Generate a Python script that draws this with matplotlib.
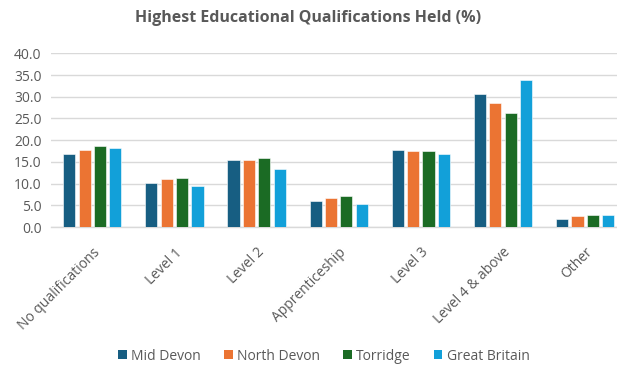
import numpy as np
import matplotlib.pyplot as plt
from matplotlib.patches import Patch

plt.rcParams['font.family'] = ['Open Sans', 'DejaVu Sans']

categories = ['No qualifications', 'Level 1', 'Level 2', 'Apprenticeship',
              'Level 3', 'Level 4 & above', 'Other']
series = ['Mid Devon', 'North Devon', 'Torridge', 'Great Britain']
mid_devon = [16.8, 10.1, 15.4, 5.9, 17.8, 30.6, 1.9]
north_devon = [17.7, 11.0, 15.4, 6.6, 17.6, 28.5, 2.5]
torridge = [18.7, 11.4, 15.8, 7.2, 17.4, 26.2, 2.7]
great_britain = [18.2, 9.5, 13.3, 5.2, 16.8, 33.9, 2.7]
yticks = [0, 5, 10, 15, 20, 25, 30, 35, 40]

colors = ['#175e82', '#eb7433', '#1b6b24', '#12a0d9']
grey = '#595959'

fig = plt.figure(figsize=(6.17, 3.65), dpi=100)
# plot area runs slightly past the right edge
ax = fig.add_axes([0.083, 0.378, 0.932, 0.476])

x = np.arange(len(categories))
pitch = 0.187
width = 0.148
for i, vals in enumerate([mid_devon, north_devon, torridge, great_britain]):
    ax.bar(x + (i - 1.5) * pitch, vals, width, color=colors[i],
           edgecolor='white', linewidth=0.4, zorder=3)

ax.set_xlim(-0.5, len(categories) - 0.5)
ax.set_ylim(0, 40)
ax.set_yticks(yticks)
ax.set_yticklabels(['{:.1f}'.format(v) for v in yticks])
ax.yaxis.grid(True, color='#d9d9d9', linewidth=1.0, zorder=0)
ax.set_xticks(x)
ax.set_xticklabels(categories, rotation=45, ha='right', rotation_mode='anchor')
ax.tick_params(axis='both', length=0, colors=grey, labelsize=10)
ax.tick_params(axis='y', pad=7)
ax.tick_params(axis='x', pad=13)
for s in ['top', 'right', 'left']:
    ax.spines[s].set_visible(False)
ax.spines['bottom'].set_color('#d9d9d9')
ax.spines['bottom'].set_linewidth(1.0)

fig.suptitle('Highest Educational Qualifications Held (%)', x=0.5, y=0.972,
             fontsize=11.5, fontweight='bold', color=grey)

handles = [Patch(facecolor=c) for c in colors]
fig.legend(handles, series, loc='center', bbox_to_anchor=(0.525, 0.024),
           ncol=4, frameon=False, fontsize=10, labelcolor=grey,
           handlelength=0.6, handleheight=0.6, handletextpad=0.3,
           columnspacing=1.7)

fig.savefig('out.png', dpi=100)
